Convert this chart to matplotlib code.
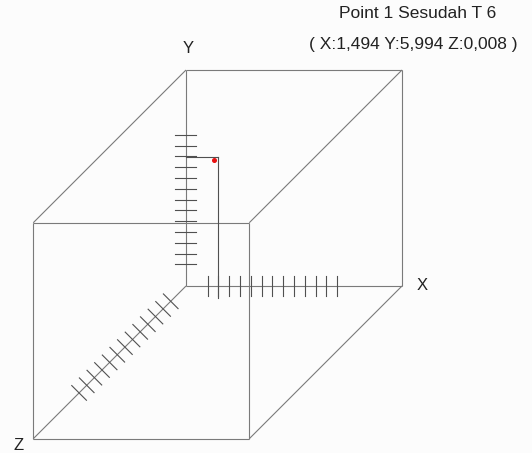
import numpy as np
import matplotlib
matplotlib.use('Agg')
import matplotlib.pyplot as plt

# point data
point_label = 'Point 1 Sesudah T 6'
point_x = 1.494
point_y = 5.994
point_z = 0.008

cube_size = 10.0
tick_values = np.arange(1.0, 7.01, 0.5)
axis_names = ['X', 'Y', 'Z']

plt.rcParams['font.family'] = ['Liberation Sans', 'DejaVu Sans']

# oblique (cavalier) projection, z goes down-left at 45 deg
c45 = np.cos(np.pi / 4)

def proj(x, y, z):
    return x - z * c45, y - z * c45

fig = plt.figure(figsize=(5.32, 4.53), dpi=100)
fig.patch.set_facecolor('#fcfcfc')
ax = fig.add_axes([0, 0, 1, 1])
ax.set_facecolor('#fcfcfc')
ax.axis('off')

px = 21.6  # pixels per unit
ax.set_xlim(-186 / px, 346 / px)
ax.set_ylim(-167 / px, 286 / px)

edge_col = '#7a7a7a'
tick_col = '#505050'
s = cube_size
corners = [(0, 0, 0), (s, 0, 0), (s, s, 0), (0, s, 0),
           (0, 0, s), (s, 0, s), (s, s, s), (0, s, s)]
edges = [(0, 1), (1, 2), (2, 3), (3, 0),
         (4, 5), (5, 6), (6, 7), (7, 4),
         (0, 4), (1, 5), (2, 6), (3, 7)]
for a, b in edges:
    xa, ya = proj(*corners[a])
    xb, yb = proj(*corners[b])
    ax.plot([xa, xb], [ya, yb], color=edge_col, lw=0.8, solid_capstyle='butt')

# ticks
h = 0.48
for t in tick_values:
    ax.plot([t, t], [-h, h], color=tick_col, lw=0.8)
    ax.plot([-h - 0.02, h], [t, t], color=tick_col, lw=0.8)
    zx, zy = proj(0, 0, t)
    ax.plot([zx - h * c45, zx + h * c45], [zy + h * c45, zy - h * c45],
            color=tick_col, lw=0.8)

# guide lines to the point
gx, gy = proj(point_x, point_y, point_z)
ax.plot([0, gx], [gy, gy], color=tick_col, lw=0.8)
ax.plot([gx, gx], [gy, -0.55], color=tick_col, lw=0.8)
ax.plot(gx - 0.18, gy - 0.14, 'o', color='#e81010', ms=2.6)

# axis names
ax.text(s + 0.95, 0, axis_names[0], fontsize=12, ha='center', va='center', color='#222222')
ax.text(0.08, s + 1.0, axis_names[1], fontsize=12, ha='center', va='center', color='#222222')
zx, zy = proj(0, 0, s)
ax.text(zx - 0.7, zy - 0.3, axis_names[2], fontsize=12, ha='center', va='center', color='#222222')

coord_text = '( X:{} Y:{} Z:{} )'.format(*[f'{v:.3f}'.replace('.', ',')
                                           for v in (point_x, point_y, point_z)])
fig.text(418 / 532, 1 - 14 / 453, point_label, fontsize=12.5, ha='center', va='center',
         color='#222222')
fig.text(413 / 532, 1 - 45 / 453, coord_text, fontsize=12.5, ha='center', va='center',
         color='#222222')

fig.savefig('out.png', dpi=100, facecolor=fig.get_facecolor())
